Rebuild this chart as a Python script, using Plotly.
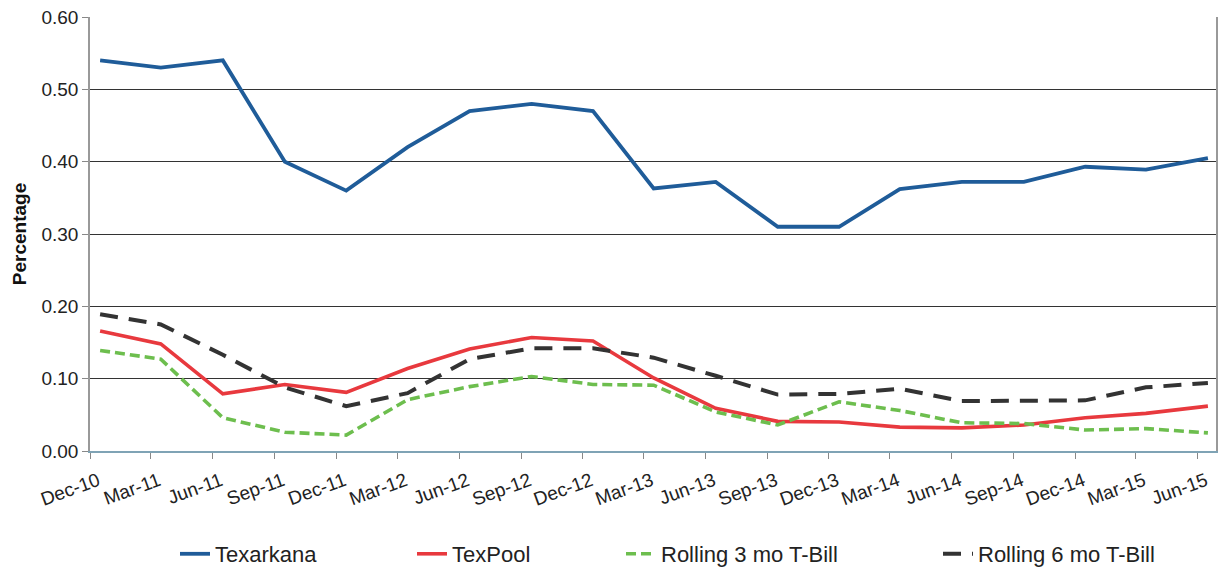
import pandas as pd
import plotly.graph_objects as go

# Quarter-end observations
quarters = ["Dec-10", "Mar-11", "Jun-11", "Sep-11", "Dec-11", "Mar-12", "Jun-12",
            "Sep-12", "Dec-12", "Mar-13", "Jun-13", "Sep-13", "Dec-13", "Mar-14",
            "Jun-14", "Sep-14", "Dec-14", "Mar-15", "Jun-15"]

texarkana = [0.54, 0.53, 0.54, 0.40, 0.36, 0.42, 0.47, 0.48, 0.47, 0.363,
             0.372, 0.31, 0.31, 0.362, 0.372, 0.372, 0.393, 0.389, 0.405]
texpool = [0.166, 0.148, 0.079, 0.092, 0.081, 0.114, 0.141, 0.157, 0.152, 0.101,
           0.059, 0.041, 0.040, 0.033, 0.032, 0.036, 0.046, 0.052, 0.062]
tbill_3mo = [0.139, 0.127, 0.046, 0.026, 0.022, 0.071, 0.089, 0.103, 0.092, 0.091,
             0.054, 0.036, 0.068, 0.056, 0.039, 0.038, 0.029, 0.031, 0.025]
tbill_6mo = [0.189, 0.175, 0.133, 0.088, 0.062, 0.080, 0.127, 0.142, 0.142, 0.129,
             0.104, 0.078, 0.079, 0.086, 0.069, 0.069, 0.070, 0.088, 0.094]

series_names = ["Texarkana", "TexPool", "Rolling 3 mo T-Bill", "Rolling 6 mo T-Bill"]
y_ticks = [0.0, 0.1, 0.2, 0.3, 0.4, 0.5, 0.6]

# Tick marks sit on the first of each quarter month; points fall mid-month
month_starts = pd.to_datetime(quarters, format="%b-%y")
point_dates = month_starts + pd.Timedelta(days=15)

FONT = "Liberation Sans, Arial, sans-serif"
W, H = 1225, 569

styles = [
    dict(color="#1F5C99", width=3.8, dash="solid"),
    dict(color="#E8393E", width=3.6, dash="solid"),
    dict(color="#6DBE4E", width=3.6, dash="10px,5px"),
    dict(color="#333333", width=4.0, dash="18px,11px"),
]
values = [texarkana, texpool, tbill_3mo, tbill_6mo]
legend_ids = ["legend", "legend2", "legend3", "legend4"]
legend_text_x = [215, 452, 661, 978]

fig = go.Figure()
for name, vals, st, lid in zip(series_names, values, styles, legend_ids):
    fig.add_trace(go.Scatter(
        x=point_dates, y=vals, name=name, mode="lines",
        line=dict(color=st["color"], width=st["width"], dash=st["dash"]),
        legend=lid,
    ))

legend_common = dict(
    orientation="h", xref="container", yref="container",
    xanchor="left", yanchor="middle", y=1 - 554 / H,
    font=dict(family=FONT, size=22, color="#222222"),
    bgcolor="rgba(0,0,0,0)", itemwidth=30,
)

layout_legends = {}
for lid, tx in zip(legend_ids, legend_text_x):
    layout_legends[lid] = dict(legend_common, x=(tx - 40) / W)

fig.update_layout(
    width=W, height=H,
    margin=dict(l=90, r=7, t=16, b=118),
    paper_bgcolor="white", plot_bgcolor="white",
    showlegend=True,
    **layout_legends,
    xaxis=dict(
        type="date",
        range=["2010-12-01", "2015-06-28"],
        tickvals=month_starts, ticktext=quarters,
        tickangle=-20, ticklabelshift=8, ticklabelstandoff=4,
        ticks="outside", ticklen=6, tickcolor="#888888", tickwidth=1,
        tickfont=dict(family=FONT, size=19, color="#222222"),
        showgrid=False, zeroline=False,
        showline=True, linecolor="#7FA3B5", linewidth=1.5,
    ),
    yaxis=dict(
        range=[0, 0.6],
        tickvals=y_ticks, tickformat=".2f",
        ticks="outside", ticklen=6, tickcolor="#888888", tickwidth=1,
        tickfont=dict(family=FONT, size=19, color="#222222"),
        showgrid=True, gridcolor="#333333", gridwidth=1,
        zeroline=False,
        showline=True, linecolor="#999999", linewidth=1.5, mirror=True,
        title=dict(text="<b>Percentage</b>", standoff=10,
                   font=dict(family=FONT, size=19, color="#111111")),
    ),
)

fig.write_html("out.html")
